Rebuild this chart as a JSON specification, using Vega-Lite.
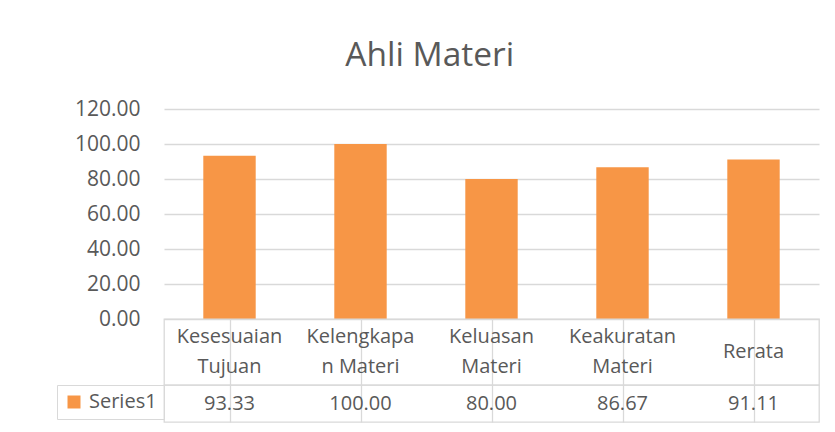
{
  "$schema": "https://vega.github.io/schema/vega-lite/v6.json",
  "padding": {"left": 55, "top": 38, "right": 10, "bottom": 5},
  "background": "white",
  "title": {"text": "Ahli Materi", "font": "Open Sans", "fontSize": 33.5, "fontWeight": "normal", "color": "#595959", "anchor": "middle", "frame": "bounds", "offset": 25, "dx": -8},
  "data": {"values": [
    {"category": "Kesesuaian Tujuan", "header": "Kesesuaian\nTujuan", "series": "Series1", "value": 93.33},
    {"category": "Kelengkapan Materi", "header": "Kelengkapa\nn Materi", "series": "Series1", "value": 100.00},
    {"category": "Keluasan Materi", "header": "Keluasan\nMateri", "series": "Series1", "value": 80.00},
    {"category": "Keakuratan Materi", "header": "Keakuratan\nMateri", "series": "Series1", "value": 86.67},
    {"category": "Rerata", "header": "Rerata", "series": "Series1", "value": 91.11}
  ]},
  "bounds": "flush",
  "spacing": 0,
  "resolve": {"scale": {"color": "independent"}, "legend": {"color": "independent"}},
  "vconcat": [
    {
      "width": 655,
      "height": 210,
      "view": {"stroke": null},
      "mark": {"type": "bar", "color": "#F79646"},
      "encoding": {
        "x": {"field": "category", "type": "nominal", "sort": null, "axis": null,
              "scale": {"paddingInner": 0.6, "paddingOuter": 0.3}},
        "y": {"field": "value", "type": "quantitative",
              "scale": {"domain": [0, 120], "nice": false},
              "axis": {"title": null, "values": [0, 20, 40, 60, 80, 100, 120], "format": ".2f",
                       "labelFont": "Open Sans", "labelFontSize": 21, "labelColor": "#595959",
                       "labelPadding": 24, "ticks": false, "tickSize": 0, "domain": false,
                       "grid": true, "gridColor": "#D9D9D9", "gridWidth": 1.3}}
      }
    },
    {
      "width": 655,
      "height": 66,
      "view": {"stroke": "#D9D9D9", "strokeWidth": 1.3},
      "encoding": {
        "x": {"field": "category", "type": "nominal", "sort": null,
              "scale": {"paddingInner": 0, "paddingOuter": 0},
              "axis": {"orient": "top", "title": null, "labels": false, "ticks": false, "domain": false,
                       "grid": true, "bandPosition": 0, "gridColor": "#D9D9D9", "gridWidth": 1.3}},
        "text": {"field": "header", "type": "nominal"}
      },
      "layer": [
        {
          "transform": [{"filter": "indexof(datum.header, '\\n') >= 0"}],
          "mark": {"type": "text", "font": "Open Sans", "fontSize": 20, "color": "#595959",
                   "baseline": "middle", "align": "center", "lineBreak": "\n", "lineHeight": 30, "dy": -15}
        },
        {
          "transform": [{"filter": "indexof(datum.header, '\\n') < 0"}],
          "mark": {"type": "text", "font": "Open Sans", "fontSize": 20, "color": "#595959",
                   "baseline": "middle", "align": "center"}
        }
      ]
    },
    {
      "width": 655,
      "height": 37,
      "view": {"stroke": "#D9D9D9", "strokeWidth": 1.3},
      "encoding": {
        "x": {"field": "category", "type": "nominal", "sort": null,
              "scale": {"paddingInner": 0, "paddingOuter": 0},
              "axis": {"orient": "top", "title": null, "labels": false, "ticks": false, "domain": false,
                       "grid": true, "bandPosition": 0, "gridColor": "#D9D9D9", "gridWidth": 1.3}}
      },
      "layer": [
        {
          "mark": {"type": "text", "font": "Open Sans", "fontSize": 20, "color": "#595959", "baseline": "middle", "align": "center"},
          "encoding": {"text": {"field": "value", "type": "quantitative", "format": ".2f"}}
        },
        {
          "mark": {"type": "text", "baseline": "middle", "align": "center"},
          "encoding": {
            "text": {"value": ""},
            "color": {"field": "series", "type": "nominal", "scale": {"range": ["#F79646"]},
                      "legend": {"orient": "left", "title": null, "offset": 0, "padding": 7,
                                 "strokeColor": "#D9D9D9", "labelFont": "Open Sans", "labelFontSize": 20,
                                 "labelColor": "#595959", "labelOffset": 5, "symbolType": "square",
                                 "symbolSize": 169, "symbolStrokeWidth": 0, "symbolOpacity": 1}}
          }
        }
      ]
    }
  ]
}
